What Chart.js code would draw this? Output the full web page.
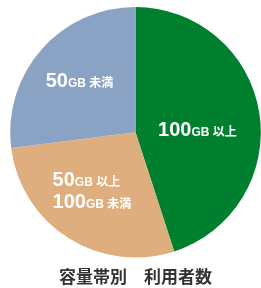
<!DOCTYPE html>
<html>
<head>
<meta charset="utf-8">
<script src="https://cdn.jsdelivr.net/npm/chart.js@4.4.0/dist/chart.umd.min.js"></script>
<style>
  html, body { margin: 0; padding: 0; background: #fff; }
  #wrap { width: 261px; height: 288px; }
</style>
</head>
<body>
<div id="wrap"><canvas id="usageChart"></canvas></div>
<script>
/*--data--*/
var categories = [
  "100GB 以上",
  "50GB 以上\n100GB 未満",
  "50GB 未満"
];
var shares = [45, 28, 27];
var sliceColors = ["#00802f", "#dfae7e", "#8aa3c4"];
var chartTitle = "容量帯別　利用者数";

// label nudges from the slice centre, and block alignment
var labelOffsets = [[0, 7], [-10, 5], [-9, -11]];
var labelAlign = ["center", "left", "center"];

var bigFont = "bold 20px 'Liberation Sans', Arial, sans-serif";
var smallFont = "bold 12px 'Liberation Sans', 'Noto Sans CJK JP', sans-serif";

function lineWidth(ctx, num, rest) {
  ctx.font = bigFont;
  var w = ctx.measureText(num).width;
  ctx.font = smallFont;
  return w + ctx.measureText(rest).width;
}

var sliceLabels = {
  id: 'sliceLabels',
  afterDatasetsDraw: function(chart) {
    var ctx = chart.ctx;
    var arcs = chart.getDatasetMeta(0).data;
    ctx.save();
    ctx.fillStyle = "#ffffff";
    ctx.textBaseline = "alphabetic";
    ctx.textAlign = "left";
    arcs.forEach(function(arc, i) {
      var p = arc.tooltipPosition();
      var cx = p.x + labelOffsets[i][0];
      var cy = p.y + labelOffsets[i][1];
      var lines = categories[i].split("\n").map(function(s) {
        var m = s.match(/^(\d+)(.*)$/);
        return { num: m[1], rest: m[2] };
      });
      var widths = lines.map(function(l) { return lineWidth(ctx, l.num, l.rest); });
      var blockW = Math.max.apply(null, widths);
      var lh = 22;
      var top = cy - (lines.length - 1) * lh / 2;
      lines.forEach(function(l, j) {
        var x = labelAlign[i] === "left" ? cx - blockW / 2 : cx - widths[j] / 2;
        var y = top + j * lh + 7;
        ctx.font = bigFont;
        ctx.fillText(l.num, x, y);
        x += ctx.measureText(l.num).width;
        ctx.font = smallFont;
        ctx.fillText(l.rest, x, y);
      });
    });
    ctx.restore();
  }
};

var usageChart = new Chart(document.getElementById('usageChart'), {
  type: 'pie',
  data: {
    labels: categories,
    datasets: [{
      data: shares,
      borderWidth: 0,
      backgroundColor: sliceColors
    }]
  },
  options: {
    responsive: true,
    maintainAspectRatio: false,
    animation: false,
    layout: { padding: { top: 7, left: 10, right: 0, bottom: 0 } },
    plugins: {
      legend: { display: false },
      tooltip: { enabled: false },
      title: {
        display: true,
        text: chartTitle,
        position: 'bottom',
        color: '#333333',
        font: { size: 17, weight: 'bold', family: "'Noto Sans CJK JP', sans-serif" },
        padding: { top: 9, bottom: 1 }
      }
    }
  },
  plugins: [sliceLabels]
});
</script>
</body>
</html>
